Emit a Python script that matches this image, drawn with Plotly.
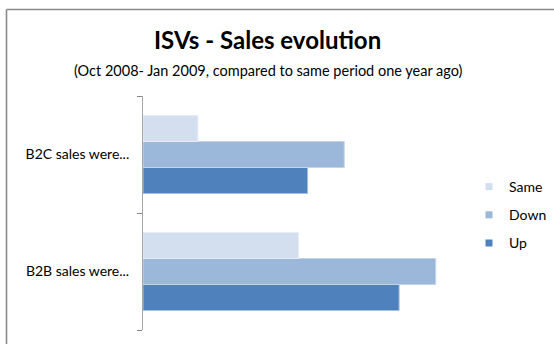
import plotly.graph_objects as go

# Survey results: how ISV sales moved versus the same period a year earlier
categories = ["B2B sales were...", "B2C sales were..."]
series_names = ["Up", "Down", "Same"]
up_values = [14, 9]
down_values = [16, 11]
same_values = [8.5, 3]

colors = {"Up": "#4F81BD", "Down": "#9BB7D9", "Same": "#D3DFEE"}
edges = {"Up": "#A7C0DE", "Down": "#C3D4EA", "Same": "#E6EDF6"}
legend_rank = {"Same": 1, "Down": 2, "Up": 3}
values = {"Up": up_values, "Down": down_values, "Same": same_values}

W, H = 554, 344
ml, mr, mt, mb = 143, 111, 96, 14
pw, ph = W - ml - mr, H - mt - mb


def px_x(x):
    return (x - ml) / pw


def px_y(y):
    return (H - mb - y) / ph


fig = go.Figure()
for name in series_names:
    fig.add_trace(go.Bar(
        y=categories,
        x=values[name],
        name=name,
        orientation="h",
        legendgroup=name,
        showlegend=False,
        marker=dict(color=colors[name], line=dict(color=edges[name], width=1)),
        hoverinfo="x+y+name",
    ))
    # small square legend key for the series
    fig.add_trace(go.Scatter(
        x=[None], y=[None],
        mode="markers",
        name=name,
        legendgroup=name,
        legendrank=legend_rank[name],
        marker=dict(symbol="square", size=7, color=colors[name]),
        hoverinfo="skip",
    ))

font = "Lato, Carlito, Calibri, sans-serif"

fig.update_layout(
    width=W, height=H,
    margin=dict(l=ml, r=mr, t=mt, b=mb, pad=0, autoexpand=False),
    paper_bgcolor="white",
    plot_bgcolor="white",
    barmode="group",
    bargap=0.333,
    bargroupgap=0,
    font=dict(family=font, color="#000000"),
    xaxis=dict(
        range=[0, 16.4],
        visible=False,
        showgrid=False,
        zeroline=False,
        fixedrange=True,
    ),
    yaxis=dict(
        type="category",
        showline=True,
        linecolor="#A6A6A6",
        linewidth=1,
        ticks="outside",
        tickson="boundaries",
        ticklen=5,
        tickcolor="#868686",
        tickfont=dict(size=14, family=font, color="#000000"),
        ticklabelstandoff=10,
        showgrid=False,
        fixedrange=True,
    ),
    legend=dict(
        traceorder="grouped",
        tracegroupgap=7,
        x=px_x(469),
        y=px_y(171),
        xanchor="left",
        yanchor="top",
        font=dict(size=14, family=font, color="#000000"),
        itemwidth=30,
        bgcolor="rgba(0,0,0,0)",
    ),
    showlegend=True,
)

# Title and subtitle
fig.add_annotation(
    text="<b>ISVs - Sales evolution</b>",
    xref="paper", yref="paper",
    x=px_x(267), y=px_y(40),
    xanchor="center", yanchor="middle",
    showarrow=False,
    font=dict(size=24, family=font, color="#000000"),
)
fig.add_annotation(
    text="(Oct 2008- Jan 2009, compared to same period one year ago)",
    xref="paper", yref="paper",
    x=px_x(268), y=px_y(71),
    xanchor="center", yanchor="middle",
    showarrow=False,
    font=dict(size=14.5, family=font, color="#000000"),
)

# Chart area frame: top and left edges
frame = dict(color="#8A8A8A", width=1.6)
fig.add_shape(type="line", xref="paper", yref="paper",
              x0=px_x(6.5), x1=px_x(W + 5), y0=px_y(9.5), y1=px_y(9.5), line=frame)
fig.add_shape(type="line", xref="paper", yref="paper",
              x0=px_x(6.5), x1=px_x(6.5), y0=px_y(9.5), y1=px_y(H + 5), line=frame)

fig.write_html("out.html")
